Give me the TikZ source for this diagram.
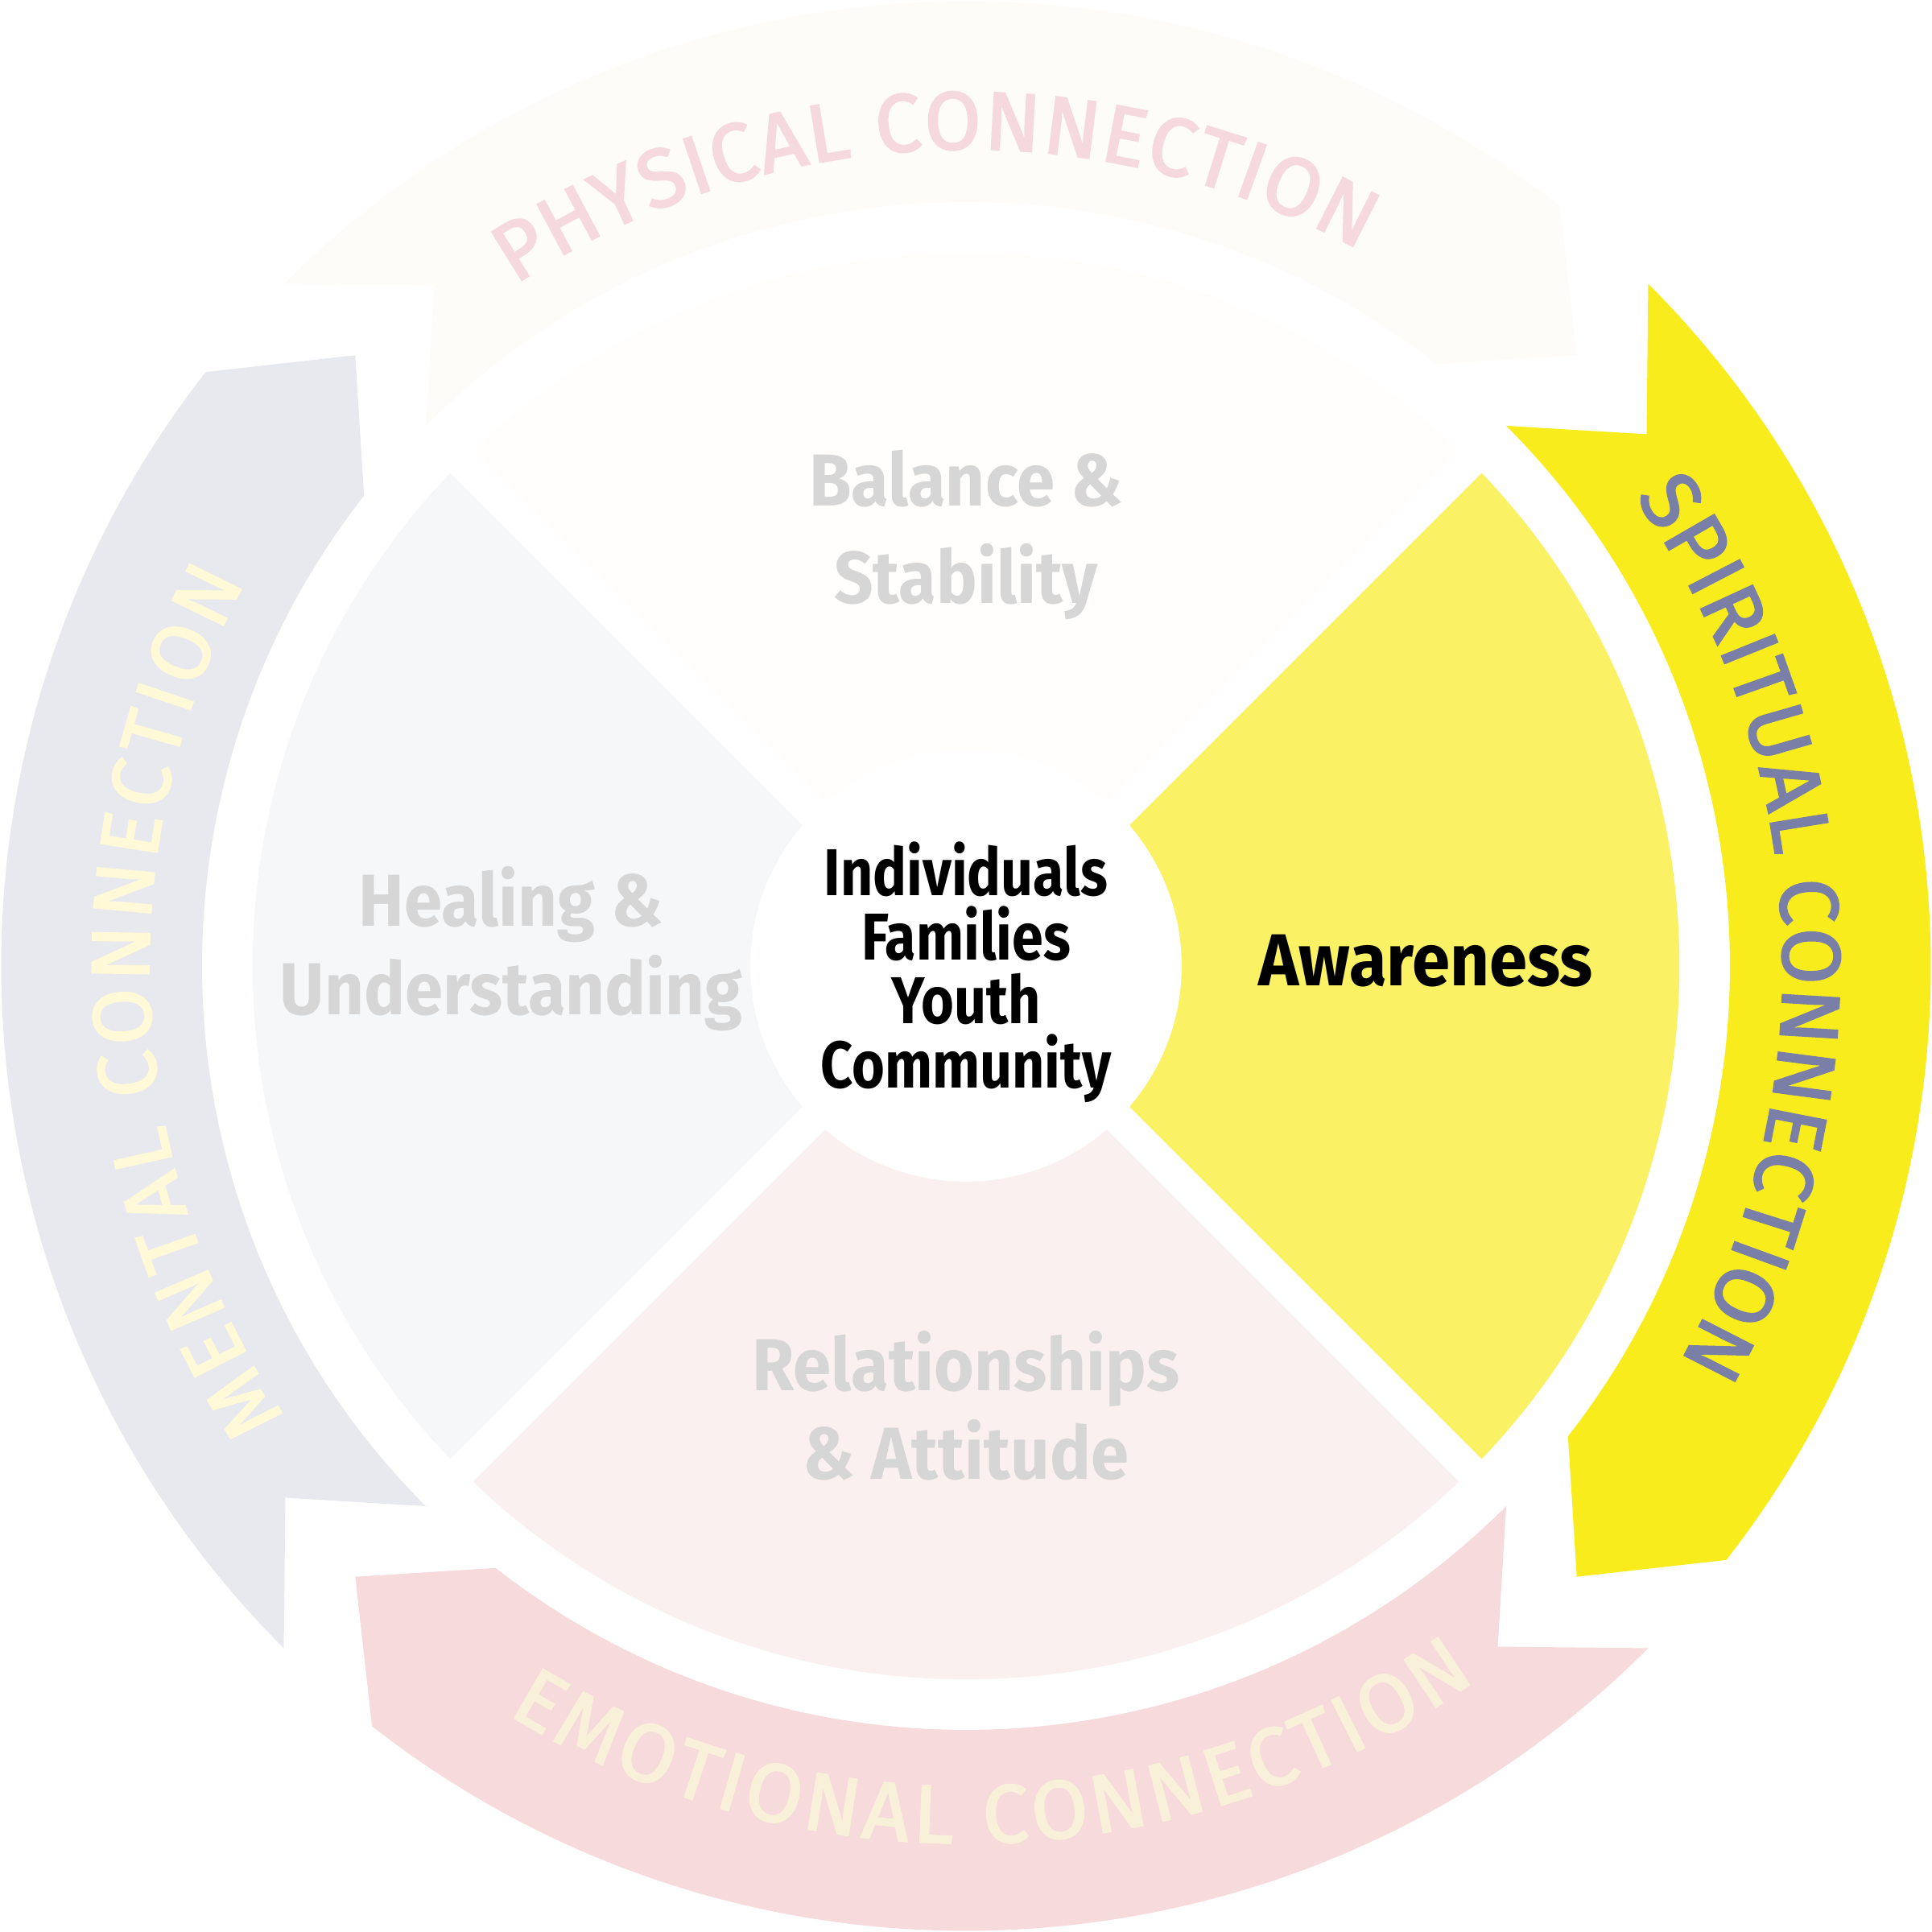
\documentclass[tikz,border=0pt]{standalone}
\usepackage{fontspec}
\setmainfont{Fira Sans}
\newfontfamily\labfont[FakeStretch=0.93]{Fira Sans}
\newfontfamily\corefont[FakeStretch=0.85]{Fira Sans}
\newfontfamily\arcfont[FakeBold=2.2]{Fira Sans}
\usetikzlibrary{decorations.text}
\definecolor{physarrow}{HTML}{FEFCF8}
\definecolor{physquad}{HTML}{FFFEFC}
\definecolor{phystext}{HTML}{F6D9DE}
\definecolor{spirarrow}{HTML}{F8EC1C}
\definecolor{spirquad}{HTML}{FAF264}
\definecolor{spirtext}{HTML}{7A7FA7}
\definecolor{emoarrow}{HTML}{F6DADC}
\definecolor{emoquad}{HTML}{FBF0F0}
\definecolor{emotext}{HTML}{F8F0D8}
\definecolor{mentarrow}{HTML}{E8E9EF}
\definecolor{mentquad}{HTML}{F6F7F9}
\definecolor{menttext}{HTML}{FFF9D7}
\definecolor{quadgray}{HTML}{D6D6D6}

\begin{document}
\begin{tikzpicture}[
        quadlab/.style={font=\labfont\bfseries\fontsize{17}{20.5}\selectfont,
                text=quadgray, align=center, inner sep=0pt},
        awarelab/.style={font=\labfont\bfseries\fontsize{17}{20.5}\selectfont,
                text=black, inner sep=0pt},
        corelab/.style={font=\corefont\bfseries\fontsize{15.3}{14.8}\selectfont,
                text=black, align=center, inner sep=0pt},
        gap/.style={draw=white, line width=0.26cm},
        arclab/.style={decorate, decoration={text along path,
                    text align={fit to path}, text color=#1}}
    ]
    \useasboundingbox (-7.84,-7.84) rectangle (7.84,7.84);

    \def\Rin{6.20}
    \def\Rmid{7.01}
    \def\Rout{7.83}
    \def\Rq{5.79}
    \def\Rc{1.75}
    \def\arcsize{\arcfont\fontsize{19}{19}\selectfont}

    % =============== quadrants ===============
    \fill[physquad] (0,0) -- (45:\Rq) arc[start angle=45, end angle=135, radius=\Rq] -- cycle;
    \fill[mentquad] (0,0) -- (135:\Rq) arc[start angle=135, end angle=225, radius=\Rq] -- cycle;
    \fill[emoquad] (0,0) -- (225:\Rq) arc[start angle=225, end angle=315, radius=\Rq] -- cycle;
    \fill[spirquad] (0,0) -- (-45:\Rq) arc[start angle=-45, end angle=45, radius=\Rq] -- cycle;
    \draw[gap] (45:6) -- (225:6);
    \draw[gap] (135:6) -- (315:6);
    \fill[white] (0,0) circle (\Rc);

    % =============== ring arrows (clockwise) ===============
    \foreach \a/\col in {135/physarrow, 45/spirarrow, -45/emoarrow, -135/mentarrow}{
        \fill[\col] (\a:\Rout) arc[start angle=\a, end angle=\a-83, radius=\Rout]
        -- ({\a-90}:\Rmid) -- ({\a-83}:\Rin)
        arc[start angle=\a-83, end angle=\a, radius=\Rin]
        -- ({\a-7}:\Rmid) -- cycle;
    }

    % =============== ring labels ===============
    \path[arclab=phystext, decoration={text={|\arcsize|PHYSICAL CONNECTION}}]
    (123.5:6.63) arc[start angle=123.5, end angle=61.2, radius=6.63];
    \path[arclab=spirtext, decoration={text={|\arcsize|SPIRITUAL CONNECTION}}]
    (35:6.63) arc[start angle=35, end angle=-29, radius=6.63];
    \path[arclab=emotext, decoration={text={|\arcsize|EMOTIONAL CONNECTION}}]
    (-121.5:7.12) arc[start angle=-121.5, end angle=-54.5, radius=7.12];
    \path[arclab=menttext, decoration={text={|\arcsize|MENTAL CONNECTION}}]
    (213.5:6.63) arc[start angle=213.5, end angle=152, radius=6.63];

    % =============== quadrant labels ===============
    \node[quadlab, font=\labfont\bfseries\fontsize{17}{22.5}\selectfont] (balance) at (0,3.50) {Balance \&\\Stability};
    \node[quadlab] (healing) at (-3.69,0.14) {Healing \&\\Understanding};
    \node[quadlab] (relation) at (0,-3.57) {Relationships\\\& Attitude};
    \node[awarelab] (aware) at (3.73,0.04) {Awareness};
    \node[corelab] (core) at (0,-0.05) {Individuals\\Families\\Youth\\Community};
\end{tikzpicture}
\end{document}
